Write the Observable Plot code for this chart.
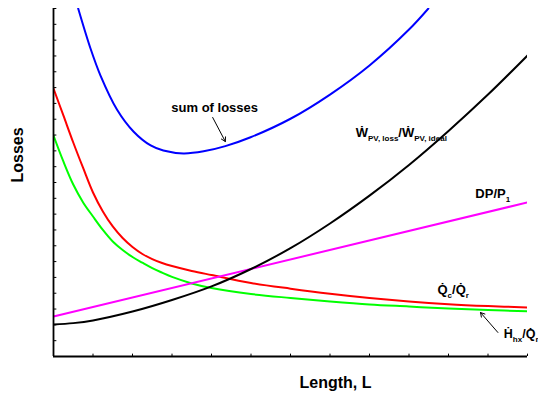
<!DOCTYPE html>
<html><head><meta charset="utf-8">
<script src="https://cdn.jsdelivr.net/npm/d3@7"></script>
<script src="https://cdn.jsdelivr.net/npm/@observablehq/plot@0.6"></script>
<style>
body{margin:0;background:#fff}
svg{font-family:"Liberation Sans",Arial,Helvetica,sans-serif;font-weight:bold}
</style>
</head><body><div id="chart"></div>
<script>
// Heat-exchanger losses vs. length (arbitrary units)
const sumX = [0.625, 0.937, 1.19, 1.61, 2.03, 2.46, 2.78, 3.29, 3.80, 4.35, 4.99, 6.0, 7.0, 8.0, 9.0, 9.49];
const sumY = [22.0, 19.47, 17.76, 15.60, 14.21, 13.34, 13.02, 12.84, 12.97, 13.30, 13.86, 15.03, 16.56, 18.40, 20.67, 22.0];
const qcX  = [0, 0.25, 0.5, 0.75, 1, 1.25, 1.5, 1.75, 2, 2.25, 2.5, 2.75, 3, 3.5, 4, 5, 6, 7, 8, 9, 10, 11, 12];
const qcY  = [16.94, 15.24, 13.53, 11.92, 10.37, 9.17, 8.22, 7.49, 6.92, 6.48, 6.16, 5.91, 5.72, 5.41, 5.15, 4.65, 4.29, 3.97, 3.70, 3.48, 3.31, 3.19, 3.10];
const hhxX = [0, 0.25, 0.5, 0.75, 1, 1.25, 1.5, 1.75, 2, 2.25, 2.5, 2.75, 3, 3.5, 4, 5, 6, 7, 8, 9, 10, 11, 12];
const hhxY = [13.97, 12.33, 10.87, 9.74, 8.85, 8.00, 7.27, 6.73, 6.29, 5.93, 5.59, 5.30, 5.03, 4.62, 4.33, 3.95, 3.70, 3.48, 3.29, 3.16, 3.03, 2.94, 2.86];
const dpX  = [0, 12];
const dpY  = [2.53, 9.74];
const wpvX = [0, 0.5, 1, 2, 3, 4, 5, 6, 7, 8, 9, 10, 11, 12];
const wpvY = [2.02, 2.11, 2.28, 2.84, 3.57, 4.43, 5.53, 6.85, 8.41, 10.17, 12.11, 14.26, 16.56, 19.03];

const seriesNames  = ["sum", "qc", "hhx", "dp", "wpv"];
const seriesColors = ["#0000ff", "#ff0000", "#00ff00", "#ff00ff", "#000000"];
const seriesXs = [sumX, qcX, hhxX, dpX, wpvX];
const seriesYs = [sumY, qcY, hhxY, dpY, wpvY];

const xTicks = d3.range(0, 13, 1);
const yTicks = d3.range(0, 23, 1);

const sumLabel  = "sum of losses";
const sumLabelX = 4.08, sumLabelY = 15.74;
const curveLabels  = ["W\u0307_{PV, loss}/W\u0307_{PV, ideal}", "DP/P_{1}", "Q\u0307_{c}/Q\u0307_{r}", "H\u0307_{hx}/Q\u0307_{r}"];
const curveLabelX  = [7.65, 10.68, 9.72, 11.40];
const curveLabelY  = [13.90, 9.99, 3.98, 1.14];
const curveLabelSize = [13, 13, 13, 12.5];

const arrowX1 = [4.03, 11.25], arrowY1 = [15.11, 1.52];
const arrowX2 = [4.35, 10.81], arrowY2 = [13.59, 2.78];

const rows = [];
seriesNames.forEach((s, i) => seriesXs[i].forEach((x, j) => rows.push({series: s, x, y: seriesYs[i][j]})));
const labels = curveLabels.map((t, i) => ({t, x: curveLabelX[i], y: curveLabelY[i], s: curveLabelSize[i]}));
const arrows = arrowX1.map((x1, i) => ({x1, y1: arrowY1[i], x2: arrowX2[i], y2: arrowY2[i]}));

const chart = Plot.plot({
  width: 538, height: 398,
  marginLeft: 53, marginRight: 11, marginTop: 8, marginBottom: 42,
  x: {domain: [0, 12], axis: null},
  y: {domain: [0, 22], axis: null},
  color: {domain: seriesNames, range: seriesColors},
  style: {background: "white", fontFamily: '"Liberation Sans", Arial, sans-serif', fontWeight: "bold"},
  marks: [
    Plot.line(rows, {x: "x", y: "y", z: "series", stroke: "series", strokeWidth: 2, curve: "catmull-rom", clip: true}),
    Plot.ruleY(yTicks, {y: d => d, x1: 0, x2: 0.085, stroke: "black", strokeWidth: 1}),
    Plot.ruleX(xTicks, {x: d => d, y1: 0, y2: 0.15, stroke: "black", strokeWidth: 1}),
    Plot.ruleX([0], {stroke: "black", strokeWidth: 1.8}),
    Plot.ruleY([0], {stroke: "black", strokeWidth: 1.8}),
    Plot.text([sumLabel], {x: () => sumLabelX, y: () => sumLabelY, textAnchor: "middle", fontSize: 13, fill: "black", fontWeight: "bold"}),
    Plot.text(labels, {x: "x", y: "y", text: "t", textAnchor: "start", lineAnchor: "bottom", fontSize: "s", fill: "black", fontWeight: "bold"}),
    Plot.arrow(arrows, {x1: "x1", y1: "y1", x2: "x2", y2: "y2", stroke: "black", strokeWidth: 1, headLength: 7}),
    Plot.text(["Losses"], {frameAnchor: "left", dx: -36, rotate: -90, fontSize: 16, fontWeight: "bold", fill: "black"}),
    Plot.text(["Length, L"], {x: () => 7.14, frameAnchor: "bottom", dy: 31, fontSize: 16, fontWeight: "bold", fill: "black"})
  ]
});
document.getElementById("chart").appendChild(chart);

// turn "_{...}" markup into subscript tspans
chart.querySelectorAll("text").forEach(t => {
  const s = t.textContent;
  if (!s.includes("_{")) return;
  t.textContent = "";
  const parts = s.split(/(_\{[^}]*\})/).filter(p => p.length);
  let sub = false;
  parts.forEach(p => {
    const ts = document.createElementNS("http://www.w3.org/2000/svg", "tspan");
    if (p.startsWith("_{")) {
      ts.textContent = p.slice(2, -1);
      ts.setAttribute("font-size", "8");
      ts.setAttribute("dy", sub ? "0" : "4");
      sub = true;
    } else {
      ts.textContent = p;
      if (sub) ts.setAttribute("dy", "-4");
      sub = false;
    }
    t.appendChild(ts);
  });
});
</script>
</body></html>
